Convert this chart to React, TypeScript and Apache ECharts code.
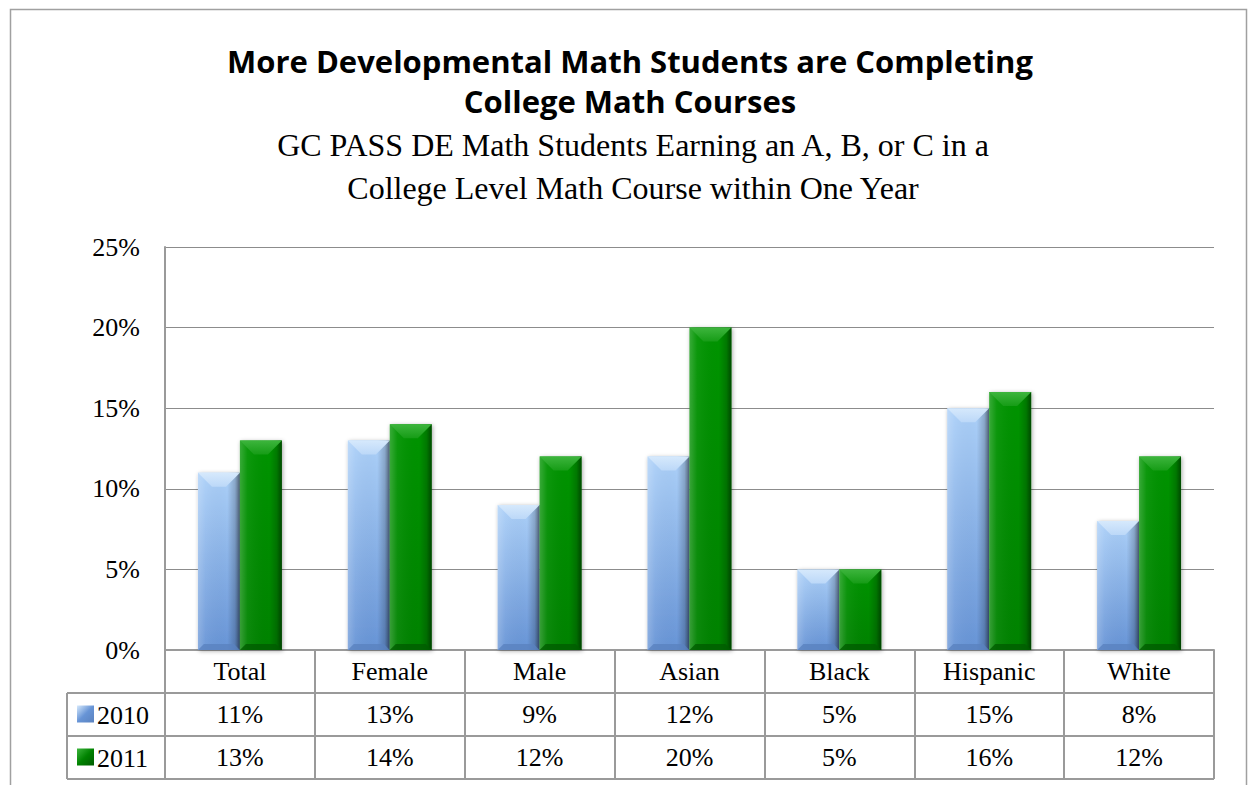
import React, { useEffect, useRef } from "react";
import * as echarts from "echarts";

const titleLines = ["More Developmental Math Students are Completing", "College Math Courses"];
const subtitleLines = ["GC PASS DE Math Students Earning an A, B, or C in a", "College Level Math Course within One Year"];
const categories = ["Total", "Female", "Male", "Asian", "Black", "Hispanic", "White"];
const seriesNames = ["2010", "2011"];
const values2010 = [11, 13, 9, 12, 5, 15, 8];
const values2011 = [13, 14, 12, 20, 5, 16, 12];
const yMin = 0;
const yMax = 25;
const yInterval = 5;

const SERIF = "'Liberation Serif', 'DejaVu Serif', serif";
const SANS = "'Open Sans', Lato, 'Liberation Sans', sans-serif";

const GRID_LEFT = 165;
const GRID_RIGHT_X = 1214;
const GRID_TOP = 247;
const GRID_BOTTOM_Y = 650;
const ROW_H = 43;
const TABLE_LEFT = 67;
const LINE_COLOR = "#9a9a9a";
const LABEL_SIZE = 26;

const palettes = [
  {
    mainTop: "#acd0f8", mainBottom: "#6794d6",
    topA: "#d6e9fc", topB: "#bcd8f8", bottom: "#5a82bf",
  },
  {
    mainTop: "#009400", mainBottom: "#008200",
    topA: "#3db53d", topB: "#169c16", bottom: "#005c00",
  },
];

function makeRenderItem(seriesIdx: number) {
  return (params: any, api: any) => {
    const ci = api.value(0);
    const v = api.value(1);
    const top = api.coord([ci, v]);
    const base = api.coord([ci, 0]);
    const band = api.size([1, 0])[0];
    const w = band * 0.28;
    const cx = top[0];
    const L = seriesIdx === 0 ? cx - w : cx;
    const R = L + w;
    const T = top[1];
    const B = base[1];
    const p = palettes[seriesIdx];
    const bt = Math.min(14, (B - T) / 2);
    const bb = Math.min(6, (B - T) / 4);
    const grad = new echarts.graphic.LinearGradient(0, 0, 0, 1, [
      { offset: 0, color: p.mainTop },
      { offset: 1, color: p.mainBottom },
    ]);
    const shade = new echarts.graphic.LinearGradient(0, 0, 1, 0, [
      { offset: 0, color: "rgba(255,255,255,0.22)" },
      { offset: 0.18, color: "rgba(255,255,255,0.05)" },
      { offset: 0.7, color: "rgba(0,0,0,0)" },
      { offset: 0.88, color: "rgba(0,0,0,0.18)" },
      { offset: 1, color: "rgba(0,0,0,0.5)" },
    ]);
    const topGrad = new echarts.graphic.LinearGradient(0, 0, 0, 1, [
      { offset: 0, color: p.topA },
      { offset: 1, color: p.topB },
    ]);
    return {
      type: "group",
      children: [
        {
          type: "rect",
          shape: { x: L, y: T, width: w, height: B - T },
          style: { fill: grad, shadowBlur: 4, shadowColor: "rgba(0,0,0,0.35)", shadowOffsetX: 1, shadowOffsetY: 1 },
        },
        {
          type: "rect",
          shape: { x: L, y: T, width: w, height: B - T },
          style: { fill: shade },
        },
        {
          type: "polygon",
          shape: { points: [[L, T], [R, T], [R - bt, T + bt], [L + bt, T + bt]] },
          style: { fill: topGrad },
        },
        {
          type: "polygon",
          shape: { points: [[L, B], [R, B], [R - bb, B - bb], [L + bb, B - bb]] },
          style: { fill: p.bottom, opacity: 0.8 },
        },
      ],
    };
  };
}

export default function App() {
  const ref = useRef<HTMLDivElement>(null);
  useEffect(() => {
    if (!ref.current) return;
    const chart = echarts.init(ref.current, undefined, { renderer: "svg" });
    const pct = (v: number) => `${v}%`;
    const tableLines: any[] = [];
    [1, 2, 3].forEach((k) => {
      const y = GRID_BOTTOM_Y + ROW_H * k;
      tableLines.push({
        type: "line",
        shape: { x1: TABLE_LEFT, y1: y, x2: GRID_RIGHT_X, y2: y },
        style: { stroke: LINE_COLOR, lineWidth: 2 },
        z: 10,
      });
    });
    tableLines.push({
      type: "line",
      shape: { x1: TABLE_LEFT, y1: GRID_BOTTOM_Y + ROW_H, x2: TABLE_LEFT, y2: GRID_BOTTOM_Y + ROW_H * 3 },
      style: { stroke: LINE_COLOR, lineWidth: 2 },
      z: 10,
    });

    const legendIcon = (i: number) =>
      new echarts.graphic.LinearGradient(0, 0, 1, 1, [
        { offset: 0, color: palettes[i].topA },
        { offset: 0.5, color: palettes[i].mainBottom },
        { offset: 1, color: palettes[i].bottom },
      ]);

    const legendItems: any[] = [];
    seriesNames.forEach((name, i) => {
      const cy = GRID_BOTTOM_Y + ROW_H * (i + 1.5);
      legendItems.push({
        type: "rect",
        shape: { x: 77, y: cy - 9, width: 17, height: 17 },
        style: { fill: legendIcon(i) },
        z: 10,
      });
      legendItems.push({
        type: "text",
        x: 97,
        y: cy + 1,
        style: {
          text: name,
          fontFamily: SERIF,
          fontSize: LABEL_SIZE,
          fill: "#000",
          textAlign: "left",
          textVerticalAlign: "middle",
        },
        z: 10,
      });
    });

    const rowLabel = (arr: number[]) => ({
      interval: 0,
      margin: 8,
      fontFamily: SERIF,
      fontSize: LABEL_SIZE,
      color: "#000",
      formatter: (_v: string, i: number) => pct(arr[i]),
    });

    chart.setOption({
      animation: false,
      backgroundColor: "#ffffff",
      grid: {
        left: GRID_LEFT,
        right: 1248 - GRID_RIGHT_X,
        top: GRID_TOP,
        bottom: 785 - GRID_BOTTOM_Y,
        containLabel: false,
      },
      xAxis: [
        {
          type: "category",
          data: categories,
          position: "bottom",
          axisLine: { show: true, lineStyle: { color: LINE_COLOR, width: 2 } },
          axisTick: { show: true, length: ROW_H * 3, lineStyle: { color: LINE_COLOR, width: 2 } },
          axisLabel: { interval: 0, margin: 8, fontFamily: SERIF, fontSize: LABEL_SIZE, color: "#000" },
        },
        {
          type: "category",
          data: categories,
          position: "bottom",
          offset: ROW_H,
          axisLine: { show: false },
          axisTick: { show: false },
          axisLabel: rowLabel(values2010),
        },
        {
          type: "category",
          data: categories,
          position: "bottom",
          offset: ROW_H * 2,
          axisLine: { show: false },
          axisTick: { show: false },
          axisLabel: rowLabel(values2011),
        },
      ],
      yAxis: {
        type: "value",
        min: yMin,
        max: yMax,
        interval: yInterval,
        axisLine: { show: true, lineStyle: { color: LINE_COLOR, width: 2 } },
        axisTick: { show: false },
        splitLine: { show: true, lineStyle: { color: "#8c8c8c", width: 1 } },
        axisLabel: {
          formatter: "{value}%",
          margin: 25,
          fontFamily: SERIF,
          fontSize: LABEL_SIZE,
          color: "#000",
        },
      },
      graphic: [
        {
          type: "rect",
          shape: { x: 10.5, y: 9.5, width: 1236, height: 800 },
          style: { fill: "none", stroke: "#a0a0a0", lineWidth: 1.5 },
          z: -1,
        },
        ...titleLines.map((t, i) => ({
          type: "text",
          x: 630,
          y: 61 + i * 40,
          style: {
            text: t,
            fontFamily: SANS,
            fontWeight: "bold",
            fontSize: 31,
            fill: "#000",
            textAlign: "center",
            textVerticalAlign: "middle",
          },
        })),
        ...subtitleLines.map((t, i) => ({
          type: "text",
          x: 633,
          y: 145 + i * 43,
          style: {
            text: t,
            fontFamily: SERIF,
            fontSize: 32,
            fill: "#000",
            textAlign: "center",
            textVerticalAlign: "middle",
          },
        })),
        ...tableLines,
        ...legendItems,
      ],
      series: [
        {
          name: seriesNames[0],
          type: "custom",
          xAxisIndex: 0,
          itemStyle: { color: "#7fb0ea" },
          renderItem: makeRenderItem(0),
          encode: { x: 0, y: 1 },
          data: values2010.map((v, i) => [i, v]),
          z: 5,
        },
        {
          name: seriesNames[1],
          type: "custom",
          xAxisIndex: 0,
          itemStyle: { color: "#008a00" },
          renderItem: makeRenderItem(1),
          encode: { x: 0, y: 1 },
          data: values2011.map((v, i) => [i, v]),
          z: 5,
        },
      ],
    });
    return () => chart.dispose();
  }, []);
  return (
    <div
      ref={ref}
      style={{ position: "fixed", left: 0, top: 0, width: 1248, height: 785 }}
    />
  );
}
